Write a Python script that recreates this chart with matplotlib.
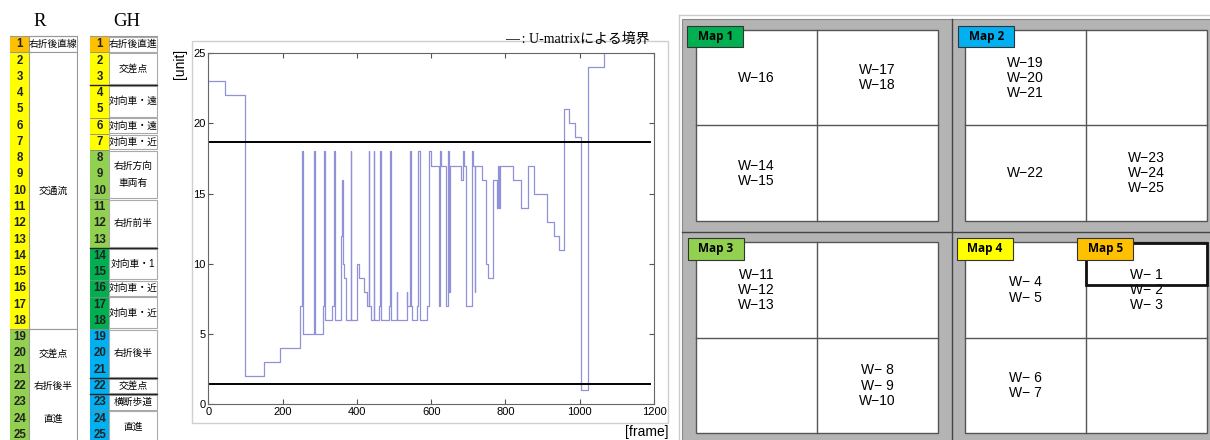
import numpy as np
import matplotlib
matplotlib.use("Agg")
import matplotlib.pyplot as plt
from matplotlib.patches import Rectangle

plt.rcParams['font.family'] = ['Liberation Sans', 'Noto Sans CJK JP', 'DejaVu Sans']

# ---- chart data: frame where a value starts, and the value (step line)
frame_pts = [0, 45, 100, 150, 193, 248, 251, 254,
             284, 287, 309, 312, 315,
             333, 338, 341,
             358, 361, 363, 365, 370,
             383, 385,
             401, 405, 418, 426, 432, 434, 437,
             445, 447,
             460, 463, 466,
             486, 488, 491,
             507, 508,
             535, 536, 542, 545, 548,
             563, 565, 569,
             588, 595, 600,
             621, 624, 627,
             641, 645, 648, 651,
             680, 685, 689, 693, 709, 713, 717, 719,
             736, 749, 753, 767,
             777, 780, 782, 786,
             821, 841, 862, 877, 913, 931, 944,
             957, 972, 987, 1003, 1023, 1066, 1200]
unit_vals = [23, 22, 2, 3, 4, 7, 18, 5,
             18, 5, 7, 18, 6,
             7, 18, 6,
             12, 16, 10, 9, 6,
             18, 6,
             10, 9, 8, 7, 18, 7, 6,
             18, 6,
             7, 18, 6,
             7, 18, 6,
             8, 6,
             8, 7, 18, 7, 6,
             7, 18, 6,
             7, 18, 17,
             7, 18, 17,
             7, 18, 8, 17,
             16, 18, 17, 7, 18, 17, 8, 17,
             16, 10, 9, 16,
             14, 17, 14, 17,
             16, 14, 17, 15, 13, 12, 11,
             21, 20, 19, 1, 24, 26, 26]
upper_bound = 18.7
lower_bound = 1.4
x_ticks = [0, 200, 400, 600, 800, 1000, 1200]
y_ticks = [0, 5, 10, 15, 20, 25]

# ---- tables
cmap = {'o': '#FFC000', 'y': '#FFFF00', 'lg': '#92D050', 'g': '#00B050', 'b': '#00B0F0'}
r_row_colors = ['o'] + ['y'] * 17 + ['lg'] * 7
r_cells = [(1, 1, [(1, '右折後直線')]),
           (2, 18, [(10, '交通流')]),
           (19, 25, [(20, '交差点'), (22, '右折後半'), (24, '直進')])]
gh_row_colors = ['o'] + ['y'] * 6 + ['lg'] * 6 + ['g'] * 5 + ['b'] * 7
gh_cells = [(1, 1, '右折後直進'), (2, 3, '交差点'), (4, 5, '対向車・遠'),
            (6, 6, '対向車・遠'), (7, 7, '対向車・近'), (8, 10, '右折方向\n車両有'),
            (11, 13, '右折前半'), (14, 15, '対向車・1'), (16, 16, '対向車・近'),
            (17, 18, '対向車・近'), (19, 21, '右折後半'), (22, 22, '交差点'),
            (23, 23, '横断歩道'), (24, 25, '直進')]
gh_dark_lines = [3, 13, 21, 22]

# ---- maps
map_names = ['Map 1', 'Map 2', 'Map 3', 'Map 4']
map_colors = ['#00B050', '#00B0F0', '#92D050', '#FFFF00']
map_texts = [['W−16', 'W−17\nW−18', 'W−14\nW−15', ''],
             ['W−19\nW−20\nW−21', '', 'W−22', 'W−23\nW−24\nW−25'],
             ['W−11\nW−12\nW−13', '', '', 'W− 8\nW− 9\nW−10'],
             ['W− 4\nW− 5', 'W− 1\nW− 2\nW− 3', 'W− 6\nW− 7', '']]

fig = plt.figure(figsize=(12.1, 4.4), dpi=100)
bg = fig.add_axes([0, 0, 1, 1])
bg.set_xlim(0, 1210)
bg.set_ylim(440, 0)
bg.axis('off')


def top(i):
    return 36.2 + (i - 1) * 16.27


def bot(i):
    return 36.2 + i * 16.27


# R table
bg.text(40, 22, 'R', family=['Liberation Serif'], fontsize=13.5, ha='center', va='center')
for i, c in enumerate(r_row_colors):
    r = i + 1
    bg.add_patch(Rectangle((10, top(r)), 19.3, 16.27, facecolor=cmap[c], edgecolor='none'))
    bg.text(19.7, (top(r) + bot(r)) / 2, str(r), fontsize=8.3, fontweight='bold',
            color='#222', ha='center', va='center')
for a, b, txts in r_cells:
    bg.add_patch(Rectangle((29.3, top(a)), 47.4, bot(b) - top(a), facecolor='white',
                           edgecolor='#999', lw=0.8))
    for row, t in txts:
        bg.text(53, (top(row) + bot(row)) / 2, t, fontsize=7.0, ha='center', va='center')
bg.plot([10, 29.3], [top(19), top(19)], color='#999', lw=0.8)
bg.plot([10, 29.3], [top(2), top(2)], color='#999', lw=0.8)
bg.plot([10, 76.7], [top(1), top(1)], color='#999', lw=0.8)

# GH table
bg.text(126.7, 22, 'GH', family=['Liberation Serif'], fontsize=13.5, ha='center', va='center')
for i, c in enumerate(gh_row_colors):
    r = i + 1
    bg.add_patch(Rectangle((90, top(r)), 19.3, 16.27, facecolor=cmap[c], edgecolor='none'))
    bg.text(99.7, (top(r) + bot(r)) / 2, str(r), fontsize=8.3, fontweight='bold',
            color='#222', ha='center', va='center')
for a, b, t in gh_cells:
    bg.add_patch(Rectangle((109.3, top(a) + 0.8), 47.4, bot(b) - top(a) - 1.6,
                           facecolor='white', edgecolor='#aaa', lw=0.8))
    bg.text(133, (top(a) + bot(b)) / 2, t, fontsize=7.0, ha='center', va='center',
            linespacing=1.9)
    bg.plot([90, 109.3], [bot(b), bot(b)], color='#888', lw=0.6)
for r in gh_dark_lines:
    bg.plot([90, 156.7], [bot(r), bot(r)], color='#222', lw=1.0)
bg.plot([90, 156.7], [top(1), top(1)], color='#999', lw=0.8)

# chart frame
bg.add_patch(Rectangle((191.7, 40.7), 476.6, 382, facecolor='none', edgecolor='#cfcfcf', lw=1))

# map panel
bg.plot([679, 1210], [15, 15], color='#cccccc', lw=1)
bg.plot([679, 679], [15, 440], color='#cccccc', lw=1)
bg.add_patch(Rectangle((681.7, 19.3), 530, 425, facecolor='#b4b4b4', edgecolor='#888', lw=0.8))
bg.plot([951.7, 951.7], [19.3, 440], color='#444', lw=1)
bg.plot([681.7, 1210], [232.3, 232.3], color='#444', lw=1)

quads = [(696, 30, 938.3, 221), (965, 30, 1206.7, 221),
         (696, 242.3, 938.3, 433.3), (965, 242.3, 1206.7, 433.3)]
label_x = [687.3, 958.3, 687.7, 956.7]
for k, (x0, y0, x1, y1) in enumerate(quads):
    xm = (x0 + x1) / 2
    ym = (y0 + y1) / 2
    bg.add_patch(Rectangle((x0, y0), x1 - x0, y1 - y0, facecolor='white', edgecolor='#555', lw=1))
    bg.plot([xm, xm], [y0, y1], color='#555', lw=1)
    bg.plot([x0, x1], [ym, ym], color='#555', lw=1)
    centers = [((x0 + xm) / 2, (y0 + ym) / 2), ((xm + x1) / 2, (y0 + ym) / 2),
               ((x0 + xm) / 2, (ym + y1) / 2), ((xm + x1) / 2, (ym + y1) / 2)]
    for (cx, cy), t in zip(centers, map_texts[k]):
        if t:
            bg.text(cx, cy, t, fontsize=10, ha='center', va='center', linespacing=1.1)
    bg.add_patch(Rectangle((label_x[k], y0 - 4), 56, 21.3, facecolor=map_colors[k],
                           edgecolor='#333', lw=0.8, zorder=3))
    bg.text(label_x[k] + 28, y0 + 6.6, map_names[k], fontsize=8.5, fontweight='bold',
            ha='center', va='center', zorder=4, family=['Open Sans'])

# Map 5 marker
bg.add_patch(Rectangle((1085.7, 243.3), 121, 41.7, facecolor='none', edgecolor='#111', lw=2, zorder=3))
bg.add_patch(Rectangle((1077.3, 238.3), 56, 21.3, facecolor='#FFC000', edgecolor='#333', lw=0.8, zorder=3))
bg.text(1105.3, 248.9, 'Map 5', fontsize=8.5, fontweight='bold', ha='center', va='center',
        zorder=4, family=['Open Sans'])

# ---- chart
ax = fig.add_axes([208.3 / 1210, 1 - 404 / 440, (654 - 208.3) / 1210, (404 - 53.3) / 440])
ax.step(frame_pts, unit_vals, where='post', color='#4848c0', alpha=0.6, lw=0.9)
ax.plot([0, 1190], [upper_bound, upper_bound], color='black', lw=1.4)
ax.plot([0, 1190], [lower_bound, lower_bound], color='black', lw=1.4)
ax.set_xlim(0, 1200)
ax.set_ylim(0, 25)
ax.set_xticks(x_ticks)
ax.set_yticks(y_ticks)
ax.tick_params(direction='in', top=True, right=True, length=3.5, labelsize=8,
               color='#555', pad=2)
for s in ax.spines.values():
    s.set_color('#666')
    s.set_linewidth(0.8)

fig.text(180 / 1210, 1 - 64 / 440, '[unit]', rotation=90, fontsize=10, ha='center', va='center')
fig.text(668 / 1210, 1 - 432 / 440, '[frame]', fontsize=10, ha='right', va='center')
fig.text(505 / 1210, 1 - 39 / 440, '—\u2009: U-matrixによる境界', fontsize=10, ha='left', va='center',
         family=['Liberation Serif', 'Noto Sans CJK JP'])

fig.savefig('out.png', dpi=100)
